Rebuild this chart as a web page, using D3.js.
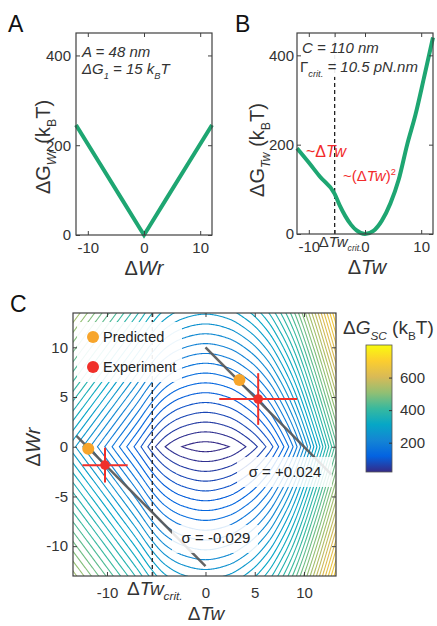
<!DOCTYPE html>
<meta charset="utf-8">
<style>
body { margin: 0; background: #fff; }
svg { font-family: "Liberation Sans", Arial, sans-serif; }
.frame { fill: none; stroke: #404040; stroke-width: 1.2; }
.curve { fill: none; stroke: #1ea672; stroke-width: 4; }
.crit { stroke: #222; stroke-width: 1.3; stroke-dasharray: 4,3; }
</style>
<body>
<script src="https://d3js.org/d3.v7.min.js"></script>
<script>

// ---- data ----
// panel A : writhe energy
var wrA  = [-12.1, -8, -4, -1, 0, 1, 4, 8, 12.1];
var gWrA = [245, 162, 81, 20, 0, 20, 81, 162, 245];

// panel B : twist energy
var twB  = [-12.1, -10, -8, -5.4, -4.5, -3.5, -2.5, -1.5, 0, 1.5, 3, 4.5, 6, 7.5, 9, 10.5, 12.1];
var gTwB = [192, 160, 128, 90, 64, 40, 21, 8, 0, 7, 30, 68, 122, 200, 268, 350, 440];
var twCrit = -5.4;

var twC  = [-14, -13.45, -11, -9, -7, -5.4, -4.1, -2.4, 0, 2.4, 4.1, 5.5, 7, 9, 11, 13.25, 14];
var gTwC = [292, 277, 211, 157, 103, 58, 30, 10, 0, 10, 30, 55, 95, 175, 290, 440, 495];
var levelsC = d3.range(10, 800, 20);
var cbarDomain = [20, 800];
var cbarTicks = [200, 400, 600];

var predicted  = [{tw: -11.9, wr: -0.2}, {tw: 3.45, wr: 6.7}];
var experiment = [{tw: -10.2, wr: -1.85, twErr: 2.3, wrErr: 1.75},
                  {tw: 5.35, wr: 4.8, twErr: 3.95, wrErr: 2.6}];
var lkLines = [{lk: 10, from: 0, to: 12.8, label: "\u03c3 = +0.024"},
               {lk: -12, from: -13.1, to: 0, label: "\u03c3 = -0.029"}];

var parulaStops = ["#352a87", "#0363e1", "#1485d4", "#06a7c6", "#38b99e",
                   "#92bf73", "#d9ba56", "#fcce2e", "#f9fb0e"];

// --------------------------------------------------------------
var svg = d3.select("body").append("svg").attr("width", 437).attr("height", 626);

var parula = d3.scaleLinear()
    .domain(parulaStops.map(function(c, i) { return i / (parulaStops.length - 1); }))
    .range(parulaStops).clamp(true);
var cnorm = d3.scaleLinear().domain(cbarDomain).range([0, 1]).clamp(true);

// rich text with italic / sub / sup pieces
function rich(sel, parts, size) {
  var shift = 0;
  parts.forEach(function(p) {
    var kind = p[1] || "", target = 0;
    var t = sel.append("tspan").text(p[0]);
    if (kind.indexOf("sub") >= 0) target = 0.3 * size;
    if (kind.indexOf("sup") >= 0) target = -0.42 * size;
    if (target !== shift) { t.attr("dy", target - shift); shift = target; }
    if (target !== 0) t.attr("font-size", size * 0.62);
    if (kind.indexOf("i") >= 0) t.attr("font-style", "italic");
  });
  return sel;
}
function label(x, y, parts, size, opts) {
  opts = opts || {};
  var t = svg.append("text").attr("font-size", size).attr("fill", opts.fill || "#333")
      .attr("text-anchor", opts.anchor || "start");
  if (opts.rotate) t.attr("transform", "translate(" + x + "," + y + ") rotate(-90)");
  else t.attr("x", x).attr("y", y);
  return rich(t, parts, size);
}

function axes(x, y, xTicks, yTicks, xPad, yPad, critSize, critDx) {
  var xr = x.range(), yr = y.range();
  var fmt = function(d) { return String(d); };
  var gx = svg.append("g").attr("transform", "translate(0," + yr[0] + ")")
      .call(d3.axisBottom(x).tickValues(xTicks).tickSize(-4).tickSizeOuter(0)
        .tickPadding(xPad).tickFormat(fmt));
  svg.append("g").attr("transform", "translate(0," + yr[1] + ")")
      .call(d3.axisTop(x).tickValues(xTicks).tickSize(-4).tickSizeOuter(0).tickFormat(""));
  svg.append("g").attr("transform", "translate(" + xr[0] + ",0)")
      .call(d3.axisLeft(y).tickValues(yTicks).tickSize(-4).tickSizeOuter(0)
        .tickPadding(yPad).tickFormat(fmt));
  svg.append("g").attr("transform", "translate(" + xr[1] + ",0)")
      .call(d3.axisRight(y).tickValues(yTicks).tickSize(-4).tickSizeOuter(0).tickFormat(""));
  svg.selectAll("g .domain").remove();
  svg.selectAll(".tick text").attr("font-size", 15).attr("font-family", null).attr("fill", "#333");
  svg.selectAll(".tick line").attr("stroke", "#404040");
  if (critSize) {
    gx.selectAll(".tick").filter(function(d) { return d === twCrit; }).select("text")
      .text(null).attr("font-size", critSize).attr("dy", "0.4em").attr("dx", critDx)
      .call(rich, [["\u0394"], ["Tw", "i"], ["crit.", "subi"]], critSize);
  }
  svg.append("rect").attr("class", "frame")
      .attr("x", xr[0]).attr("y", yr[1]).attr("width", xr[1] - xr[0]).attr("height", yr[0] - yr[1]);
}

// ---------------- panel A ----------------
var xA = d3.scaleLinear().domain([-12.1, 12.1]).range([76, 212]);
var yA = d3.scaleLinear().domain([0, 450]).range([235, 33]);

svg.append("path").datum(d3.zip(wrA, gWrA)).attr("class", "curve")
    .attr("d", d3.line().x(function(d) { return xA(d[0]); }).y(function(d) { return yA(d[1]); }));
axes(xA, yA, [-10, 0, 10], [0, 200, 400], 7, 5);
label(82, 57, [["A = 48 nm", "i"]], 15);
label(82, 74, [["\u0394G", "i"], ["1", "subi"], [" = 15 k", "i"], ["B", "subi"], ["T", "i"]], 15);
label(144, 275, [["\u0394"], ["Wr", "i"]], 20, {anchor: "middle"});
label(50, 147, [["\u0394G"], ["Wr", "subi"], ["\u00a0(k"], ["B", "sub"], ["T)"]], 20, {anchor: "middle", rotate: true});
svg.append("text").attr("x", 8).attr("y", 32).attr("font-size", 23).attr("fill", "#111").text("A");

// ---------------- panel B ----------------
var xB = d3.scaleLinear().domain([-12.1, 12.1]).range([297, 433]);
var yB = d3.scaleLinear().domain([0, 450]).range([234, 33]);

svg.append("line").attr("class", "crit")
    .attr("x1", xB(twCrit)).attr("x2", xB(twCrit)).attr("y1", yB(0)).attr("y2", yB(450));
svg.append("rect").attr("x", 299).attr("y", 34).attr("width", 118).attr("height", 43)
    .attr("fill", "#fff").attr("opacity", 0.92);
svg.append("path").datum(d3.zip(twB, gTwB)).attr("class", "curve")
    .attr("d", d3.line().curve(d3.curveMonotoneX)
      .x(function(d) { return xB(d[0]); }).y(function(d) { return yB(d[1]); }));
axes(xB, yB, [-10, twCrit, 0, 10], [0, 200, 400], 7, 3, 14, 5);
label(302, 53, [["C = 110 nm", "i"]], 15);
label(300, 72, [["\u0393"], ["crit.", "subi"], [" = 10.5 pN.nm", "i"]], 15);
label(306, 157, [["~\u0394"], ["Tw", "i"]], 16, {fill: "#f22b2b"});
label(343, 181, [["~(\u0394"], ["Tw", "i"], [")"], ["2", "sup"]], 15, {fill: "#f22b2b"});
label(367, 274, [["\u0394"], ["Tw", "i"]], 20, {anchor: "middle"});
label(264, 150, [["\u0394G"], ["Tw", "subi"], ["\u00a0(k"], ["B", "sub"], ["T)"]], 20, {anchor: "middle", rotate: true});
svg.append("text").attr("x", 235).attr("y", 32).attr("font-size", 23).attr("fill", "#111").text("B");

// ---------------- panel C ----------------
var xC = d3.scaleLinear().domain([-13.45, 13.25]).range([73, 336]);
var yC = d3.scaleLinear().domain([-13.0, 13.45]).range([576, 313]);

// smooth profile through the read samples (cubic Hermite)
function smoothProfile(xs, ys) {
  var m = ys.map(function(v, i) {
    var a = Math.max(i - 1, 0), b = Math.min(i + 1, xs.length - 1);
    return (ys[b] - ys[a]) / (xs[b] - xs[a]);
  });
  return function(x) {
    var i = Math.max(0, Math.min(d3.bisectRight(xs, x) - 1, xs.length - 2));
    var h = xs[i + 1] - xs[i], t = (x - xs[i]) / h, t2 = t * t, t3 = t2 * t;
    return (2 * t3 - 3 * t2 + 1) * ys[i] + (t3 - 2 * t2 + t) * h * m[i] +
           (-2 * t3 + 3 * t2) * ys[i + 1] + (t3 - t2) * h * m[i + 1];
  };
}
var gTw = smoothProfile(twC, gTwC);
var gWr = d3.scaleLinear().domain(wrA).range(gWrA);

var step = 0.1, g0 = -14, n = 281;
var field = new Array(n * n);
for (var j = 0; j < n; j++)
  for (var i = 0; i < n; i++)
    field[j * n + i] = gTw(g0 + i * step) + gWr(g0 + j * step);

var contours = d3.contours().size([n, n]).thresholds(levelsC)(field);
var proj = d3.geoTransform({point: function(x, y) {
  this.stream.point(xC(g0 + (x - 0.5) * step), yC(g0 + (y - 0.5) * step));
}});

svg.append("clipPath").attr("id", "clipC").append("rect")
    .attr("x", 73).attr("y", 313).attr("width", 263).attr("height", 263);
var gc = svg.append("g").attr("clip-path", "url(#clipC)");
gc.selectAll("path.iso").data(contours).enter().append("path")
    .attr("class", "iso")
    .attr("d", d3.geoPath(proj))
    .attr("fill", "none")
    .attr("stroke", function(d) { return parula(cnorm(d.value)); })
    .attr("stroke-width", 1.1);

gc.append("line").attr("class", "crit")
    .attr("x1", xC(twCrit)).attr("x2", xC(twCrit)).attr("y1", 313).attr("y2", 576);

gc.selectAll("line.lk").data(lkLines).enter().append("line")
    .attr("class", "lk")
    .attr("x1", function(d) { return xC(d.from); }).attr("y1", function(d) { return yC(d.lk - d.from); })
    .attr("x2", function(d) { return xC(d.to); }).attr("y2", function(d) { return yC(d.lk - d.to); })
    .attr("stroke", "#555").attr("stroke-width", 2.5).attr("opacity", 0.9);

// sigma labels
var sigBoxes = [{x: 237, y: 457, w: 95, h: 30, tx: 285, ty: 477},
                {x: 172, y: 525, w: 86, h: 28, tx: 216, ty: 543}];
sigBoxes.forEach(function(b, k) {
  svg.append("rect").attr("x", b.x).attr("y", b.y).attr("width", b.w).attr("height", b.h)
      .attr("fill", "#fff").attr("opacity", 0.85);
  svg.append("text").attr("x", b.tx).attr("y", b.ty).attr("text-anchor", "middle")
      .attr("font-size", 15).attr("fill", "#222").text(lkLines[k].label);
});

// error bars + points
var eb = svg.append("g").attr("stroke", "#f0302a").attr("stroke-width", 2);
experiment.forEach(function(d) {
  eb.append("line").attr("x1", xC(d.tw - d.twErr)).attr("x2", xC(d.tw + d.twErr))
      .attr("y1", yC(d.wr)).attr("y2", yC(d.wr));
  eb.append("line").attr("x1", xC(d.tw)).attr("x2", xC(d.tw))
      .attr("y1", yC(d.wr - d.wrErr)).attr("y2", yC(d.wr + d.wrErr));
});
svg.selectAll("circle.pred").data(predicted).enter().append("circle")
    .attr("cx", function(d) { return xC(d.tw); }).attr("cy", function(d) { return yC(d.wr); })
    .attr("r", 6).attr("fill", "#f7a52b");
svg.selectAll("circle.exp").data(experiment).enter().append("circle")
    .attr("cx", function(d) { return xC(d.tw); }).attr("cy", function(d) { return yC(d.wr); })
    .attr("r", 4.8).attr("fill", "#f0302a");

// legend
svg.append("rect").attr("x", 77).attr("y", 322).attr("width", 105).attr("height", 60)
    .attr("fill", "#fff").attr("opacity", 0.92);
svg.append("circle").attr("cx", 93).attr("cy", 337).attr("r", 6).attr("fill", "#f7a52b");
svg.append("circle").attr("cx", 93).attr("cy", 367).attr("r", 6).attr("fill", "#f0302a");
svg.append("text").attr("x", 103).attr("y", 342).attr("font-size", 14.5).attr("fill", "#222").text("Predicted");
svg.append("text").attr("x", 103).attr("y", 372).attr("font-size", 14.5).attr("fill", "#222").text("Experiment");

axes(xC, yC, [-10, twCrit, 0, 5, 10], [-10, -5, 0, 5, 10], 11, 5, 19, 2);
label(206, 620, [["\u0394"], ["Tw", "i"]], 19, {anchor: "middle"});
label(40, 447, [["\u0394"], ["Wr", "i"]], 20, {anchor: "middle", rotate: true});
svg.append("text").attr("x", 10).attr("y", 312).attr("font-size", 23).attr("fill", "#111").text("C");

// colorbar
var defs = svg.append("defs");
var grad = defs.append("linearGradient").attr("id", "parula")
    .attr("x1", 0).attr("x2", 0).attr("y1", 1).attr("y2", 0);
parulaStops.forEach(function(c, i) {
  grad.append("stop").attr("offset", i / (parulaStops.length - 1)).attr("stop-color", c);
});
var cy = d3.scaleLinear().domain(cbarDomain).range([472, 345]);
svg.append("rect").attr("x", 366).attr("y", 345).attr("width", 26).attr("height", 127)
    .attr("fill", "url(#parula)").attr("stroke", "#555").attr("stroke-width", 0.8);
var cb = svg.append("g").attr("transform", "translate(392,0)")
    .call(d3.axisRight(cy).tickValues(cbarTicks).tickSize(-3).tickSizeOuter(0).tickPadding(8));
cb.select(".domain").remove();
cb.selectAll("text").attr("font-size", 15).attr("font-family", null).attr("fill", "#333");
cb.selectAll("line").attr("stroke", "#333");
label(343, 334, [["\u0394"], ["G", "i"], ["SC", "subi"], ["\u00a0(k"], ["B", "sub"], ["T)"]], 19);

</script>
</body>
